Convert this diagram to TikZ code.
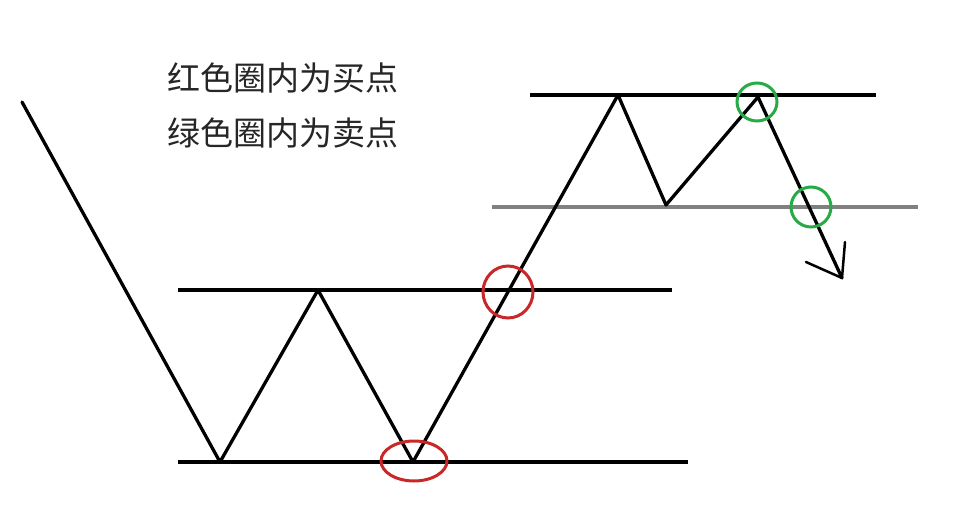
\documentclass[tikz,border=0pt]{standalone}
\usepackage{fontspec}
\newfontfamily\cjk{Noto Sans CJK SC}
\begin{document}
\begin{tikzpicture}[x=1pt,y=-1pt,
  price/.style={line width=3.3pt,line join=round,line cap=round},
  level/.style={line width=3.3pt},
  redring/.style={draw={rgb,255:red,200;green,40;blue,40},line width=3pt},
  greenring/.style={draw={rgb,255:red,40;green,170;blue,70},line width=3pt},
  lbl/.style={anchor=west,font=\cjk\fontsize{33}{36}\selectfont,text=black!85}]
\useasboundingbox[fill=white] (0,0) rectangle (956,521);
\draw[level] (530,95) -- (876,95);
\draw[level,draw=gray] (492,207) -- (918,207);
\draw[level] (178,290) -- (672,290);
\draw[level] (178,462) -- (688,462);
\draw[price] (22,102) -- (220,462) -- (318,290) -- (413,462) -- (618,95) -- (666,205) -- (758,97) -- (842,278);
\draw[price,line width=2.5pt] (806,262) -- (842,278) -- (845,242);
\draw[redring] (508,292) ellipse (25 and 26);
\draw[redring] (414,461) ellipse (33 and 20);
\draw[greenring] (757,102) ellipse (20 and 19);
\draw[greenring] (811,207) ellipse (20 and 20);
\node[lbl] (t1) at (164,78) {红色圈内为买点};
\node[lbl] (t2) at (164,133) {绿色圈内为卖点};
\end{tikzpicture}
\end{document}
